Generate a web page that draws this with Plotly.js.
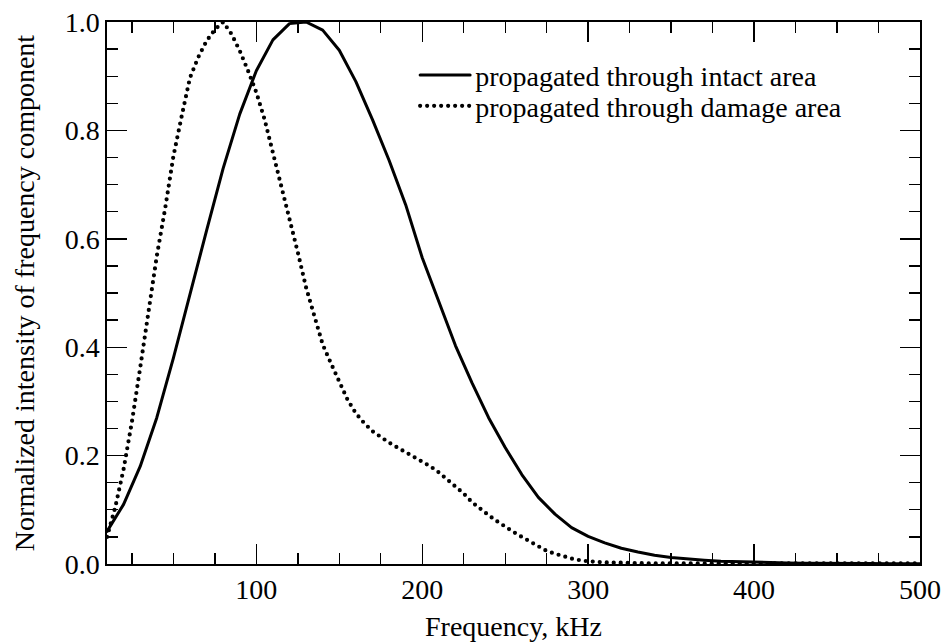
<!DOCTYPE html>
<html>
<head>
<meta charset="utf-8">
<script src="https://cdn.plot.ly/plotly-3.0.1.min.js"></script>
<style>
  html, body { margin: 0; padding: 0; background: #fff; }
  #chart { width: 943px; height: 642px; }
  .js-line, .legendlines path { stroke-linecap: round; stroke-linejoin: round; }
</style>
</head>
<body>
<div id="chart"></div>
<script>
// Frequency grid (kHz) and normalized intensities
const freqIntact = [10,20,30,40,50,60,70,80,90,100,110,120,130,140,150,160,170,180,190,200,
  210,220,230,240,250,260,270,280,290,300,310,320,330,340,350,360,370,380,390,400,
  410,420,430,440,450,460,470,480,490,500];
const intactArea = [0.06,0.11,0.18,0.27,0.38,0.50,0.615,0.73,0.83,0.91,0.967,0.997,1.0,0.985,0.948,0.89,0.82,0.745,0.663,0.565,
  0.482,0.403,0.334,0.27,0.215,0.165,0.123,0.092,0.067,0.051,0.039,0.029,0.022,0.016,0.012,0.009,0.007,0.005,0.004,0.003,
  0.002,0.002,0.0015,0.001,0.001,0.001,0.0008,0.0006,0.0005,0.0004];

const freqDamage = [10,15,20,25,30,35,40,45,50,55,60,65,70,75,80,85,90,95,100,105,110,115,120,125,130,135,140,145,150,
  155,160,165,170,175,180,185,190,195,200,205,210,215,220,225,230,235,240,245,250,255,260,265,270,275,280,285,290,295,300,
  310,320,330,340,350,360,370,380,390,400,410,420,430,440,450,460,470,480,490,500];
const damageArea = [0.05,0.105,0.175,0.262,0.362,0.467,0.568,0.655,0.752,0.826,0.897,0.935,0.965,0.986,1.0,0.978,0.947,0.91,0.87,0.82,
  0.76,0.70,0.64,0.575,0.51,0.46,0.405,0.37,0.335,0.303,0.278,0.26,0.245,0.234,0.224,0.215,0.206,0.198,0.19,0.18,
  0.169,0.156,0.143,0.13,0.114,0.101,0.09,0.079,0.068,0.059,0.05,0.041,0.031,0.024,0.019,0.014,0.01,0.007,0.005,
  0.003,0.002,0.001,0.001,0.001,0.001,0.001,0.001,0.001,0.001,0.001,0.001,0.001,0.001,0.001,0.001,0.001,0.001,0.001,0.001];

const seriesNames = ['propagated through intact area', 'propagated through damage area'];
const xTitle = 'Frequency, kHz';
const yTitle = 'Normalized intensity of frequency component';

const FONT = '"Liberation Serif", "Times New Roman", serif';

const traces = [
  {
    x: freqIntact, y: intactArea, name: seriesNames[0], type: 'scatter', mode: 'lines',
    line: { color: '#000', width: 3, dash: 'solid' }, legend: 'legend'
  },
  {
    x: freqDamage, y: damageArea, name: seriesNames[1], type: 'scatter', mode: 'lines',
    line: { color: '#000', width: 4.2, dash: '0px,7px' }, legend: 'legend2'
  }
];

const axisCommon = {
  showgrid: false, zeroline: false, showline: true, linecolor: '#000', linewidth: 1.6,
  mirror: 'allticks', ticks: 'inside', ticklen: 20, tickwidth: 1.4, tickcolor: '#000',
  tickfont: { family: FONT, size: 28, color: '#000' }
};

const legendCommon = {
  xanchor: 'left', yanchor: 'top', itemwidth: 50,
  bgcolor: 'rgba(0,0,0,0)', borderwidth: 0,
  font: { family: FONT, size: 28, color: '#000' }
};

const layout = {
  width: 943, height: 642,
  margin: { l: 107, r: 23, t: 22, b: 78 },
  paper_bgcolor: '#fff', plot_bgcolor: '#fff',
  font: { family: FONT, size: 28, color: '#000' },
  showlegend: true,
  legend: Object.assign({}, legendCommon, { x: 0.379, y: 0.948 }),
  legend2: Object.assign({}, legendCommon, { x: 0.379, y: 0.891 }),
  xaxis: Object.assign({}, axisCommon, {
    range: [10, 500], tick0: 0, dtick: 100,
    minor: { dtick: 25, ticklen: 11, tickwidth: 1.4, tickcolor: '#000', ticks: 'inside' },
    title: { text: xTitle, font: { family: FONT, size: 28, color: '#000' }, standoff: 12 }
  }),
  yaxis: Object.assign({}, axisCommon, {
    range: [0, 1], tick0: 0, dtick: 0.2, tickformat: '.1f',
    minor: { dtick: 0.05, ticklen: 11, tickwidth: 1.4, tickcolor: '#000', ticks: 'inside' },
    title: { text: yTitle, font: { family: FONT, size: 28, color: '#000' }, standoff: 22 }
  })
};

Plotly.newPlot('chart', traces, layout, { staticPlot: true, displayModeBar: false });
</script>
</body>
</html>
